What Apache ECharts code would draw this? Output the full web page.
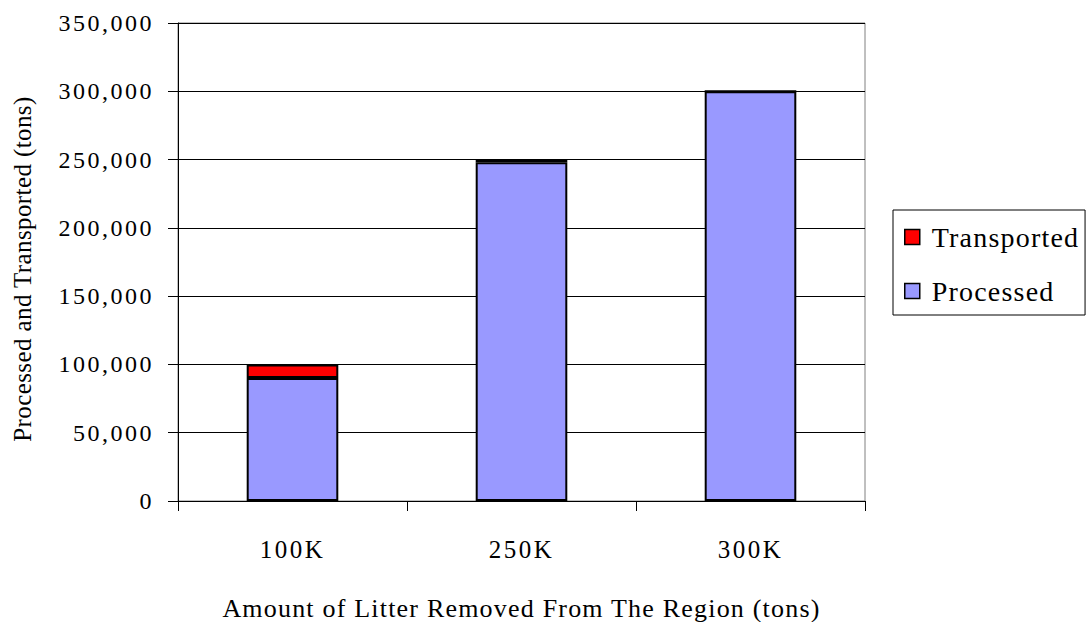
<!DOCTYPE html>
<html>
<head>
<meta charset="utf-8">
<script src="https://cdn.jsdelivr.net/npm/echarts@6/dist/echarts.min.js"></script>
<style>
  html, body { margin: 0; padding: 0; background: #fff; overflow: hidden; }
  #chart { width: 1086px; height: 622px; }
</style>
</head>
<body>
<div id="chart"></div>
<script>
// Litter removal scenarios and tonnage handled in each
const categories = ['100K', '250K', '300K'];
const processed = [90000, 248000, 300000];
const transported = [10000, 2000, 0];
const yTicks = [0, 50000, 100000, 150000, 200000, 250000, 300000, 350000];

const X_NAME = 'Amount of Litter Removed From The Region (tons)';
const Y_NAME = 'Processed and Transported (tons)';

const FONT = '"Liberation Serif", "Times New Roman", serif';
const fmt = v => v.toLocaleString('en-US');

const chart = echarts.init(document.getElementById('chart'), null, { renderer: 'svg' });

chart.setOption({
  animation: false,
  backgroundColor: '#ffffff',
  textStyle: { fontFamily: FONT, color: '#000' },
  grid: {
    left: 178, right: 221, top: 23, bottom: 121,
    outerBoundsMode: 'none',
    containLabel: false,
    show: true, borderColor: '#808080', borderWidth: 1, backgroundColor: '#fff'
  },
  legend: {
    orient: 'vertical',
    left: 893, top: 210,
    padding: [13, 19, 10, 11],
    itemGap: 26,
    itemWidth: 15, itemHeight: 15,
    icon: 'rect',
    borderColor: '#000', borderWidth: 1,
    backgroundColor: '#fff',
    textStyle: { fontFamily: FONT, fontSize: 28, color: '#000', padding: [0, 0, 0, 7] },
    itemStyle: { borderColor: '#000', borderWidth: 1.5 },
    data: ['Transported', 'Processed']
  },
  xAxis: {
    type: 'category',
    data: categories,
    name: X_NAME,
    nameLocation: 'middle',
    nameGap: 94,
    nameTextStyle: { fontFamily: FONT, fontSize: 26, color: '#000' },
    axisLine: { lineStyle: { color: '#000', width: 1 } },
    axisTick: { show: true, length: 10, lineStyle: { color: '#000' }, alignWithLabel: false },
    axisLabel: { fontFamily: FONT, fontSize: 25, color: '#000', margin: 36 },
    splitLine: { show: false }
  },
  yAxis: {
    type: 'value',
    min: yTicks[0],
    max: yTicks[yTicks.length - 1],
    interval: 50000,
    name: Y_NAME,
    nameLocation: 'middle',
    nameGap: 143,
    nameRotate: 90,
    nameTextStyle: { fontFamily: FONT, fontSize: 25, color: '#000', padding: [0, 14, 0, 0] },
    axisLine: { show: true, lineStyle: { color: '#000', width: 1 } },
    axisTick: { show: true, length: 10, lineStyle: { color: '#000' } },
    axisLabel: { fontFamily: FONT, fontSize: 24, color: '#000', margin: 24, formatter: fmt },
    splitLine: { show: true, lineStyle: { color: '#000', width: 1 } }
  },
  series: [
    {
      name: 'Processed',
      type: 'bar',
      stack: 'total',
      barWidth: '40%',
      data: processed,
      itemStyle: { color: '#9999FF', borderColor: '#000', borderWidth: 2 }
    },
    {
      name: 'Transported',
      type: 'bar',
      stack: 'total',
      barWidth: '40%',
      data: transported,
      itemStyle: { color: '#FF0000', borderColor: '#000', borderWidth: 2 }
    }
  ]
});

// Widen the serif lettering a little, as in the printed report style
function spaceText() {
  document.querySelectorAll('#chart svg text').forEach(t => {
    const s = t.textContent;
    let ls = 1.2;
    if (/^[\d,]+$/.test(s) || categories.includes(s)) ls = 2.5;
    else if (s === Y_NAME) ls = 0.4;
    t.style.letterSpacing = ls + 'px';
  });
}
spaceText();
chart.on('finished', spaceText);
</script>
</body>
</html>
